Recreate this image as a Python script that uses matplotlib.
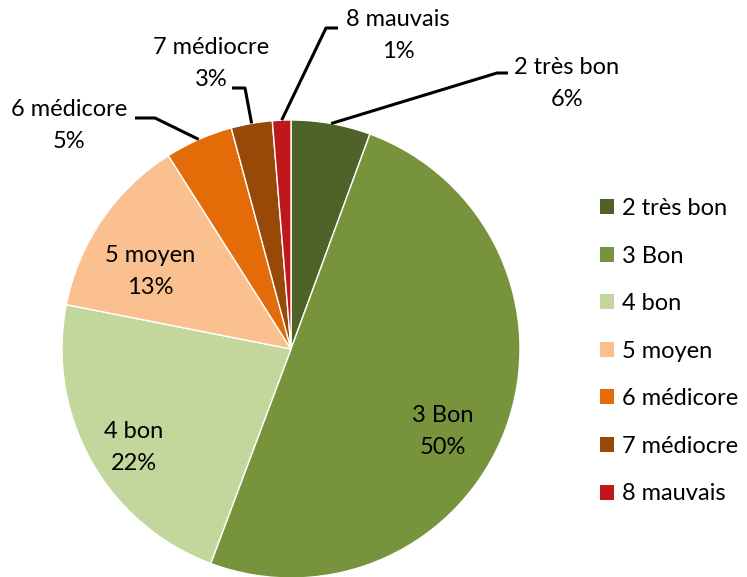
import numpy as np
import matplotlib
matplotlib.use("Agg")
import matplotlib.pyplot as plt
from matplotlib.patches import Patch

categories = ["2 très bon", "3 Bon", "4 bon", "5 moyen", "6 médicore", "7 médiocre", "8 mauvais"]
values = [5.6, 50.1, 22.4, 12.9, 4.8, 2.9, 1.3]
colors = ["#4F6228", "#77933C", "#C3D69B", "#FAC090", "#E36C09", "#984807", "#C0171C"]

W, H = 747, 577
plt.rcParams['font.family'] = ['Lato', 'DejaVu Sans']
FS = 17

fig = plt.figure(figsize=(W / 100, H / 100), dpi=100)
ax = fig.add_axes([0, 0, 1, 1])

def py(y):
    return H - y

cx, cy, R = 291, py(349), 229
wedges, _ = ax.pie(values, colors=colors, startangle=90, counterclock=False,
                   radius=R, center=(cx, cy), frame=True,
                   wedgeprops=dict(edgecolor='white', linewidth=1))
ax.set_xlim(0, W)
ax.set_ylim(0, H)
ax.set_aspect('equal')
ax.axis('off')

total = sum(values)
pct = [f"{round(v / total * 100):.0f}%" for v in values]

# label layout (pixel coordinates: name line, pct line); elbow points for leaders
label_pos = {
    "2 très bon": (567, 67, 99),
    "3 Bon": (443, 415, 447),
    "4 bon": (134, 431, 463),
    "5 moyen": (150, 255, 287),
    "6 médicore": (69, 110, 142),
    "7 médiocre": (211, 47, 79),
    "8 mauvais": (398, 19, 52),
}
leaders = {
    "2 très bon": [(497, 73), (508, 73)],
    "6 médicore": [(155, 118), (135, 118)],
    "7 médiocre": [(245, 88), (232, 88)],
    "8 mauvais": [(326, 28), (338, 28)],
}

for w, cat, p in zip(wedges, categories, pct):
    x, y1, y2 = label_pos[cat]
    ax.text(x, py(y1), cat, ha='center', va='center', fontsize=FS, color='black')
    ax.text(x, py(y2), p, ha='center', va='center', fontsize=FS, color='black')
    if cat in leaders:
        mid = np.deg2rad((w.theta1 + w.theta2) / 2)
        sx, sy = cx + R * np.cos(mid), cy + R * np.sin(mid)
        xs = [sx] + [a for a, b in leaders[cat]]
        ys = [sy] + [py(b) for a, b in leaders[cat]]
        ax.plot(xs, ys, color='black', linewidth=2.2, solid_capstyle='butt')

handles = [Patch(facecolor=c, edgecolor='none') for c in colors]
leg = ax.legend(handles, categories, loc='upper left',
                bbox_to_anchor=(600 / W, 1 - 198 / H),
                frameon=False, fontsize=FS, handlelength=0.6, handleheight=0.6,
                handletextpad=0.35, labelspacing=1.125, borderaxespad=0, borderpad=0)

fig.savefig("out.png", dpi=100)
